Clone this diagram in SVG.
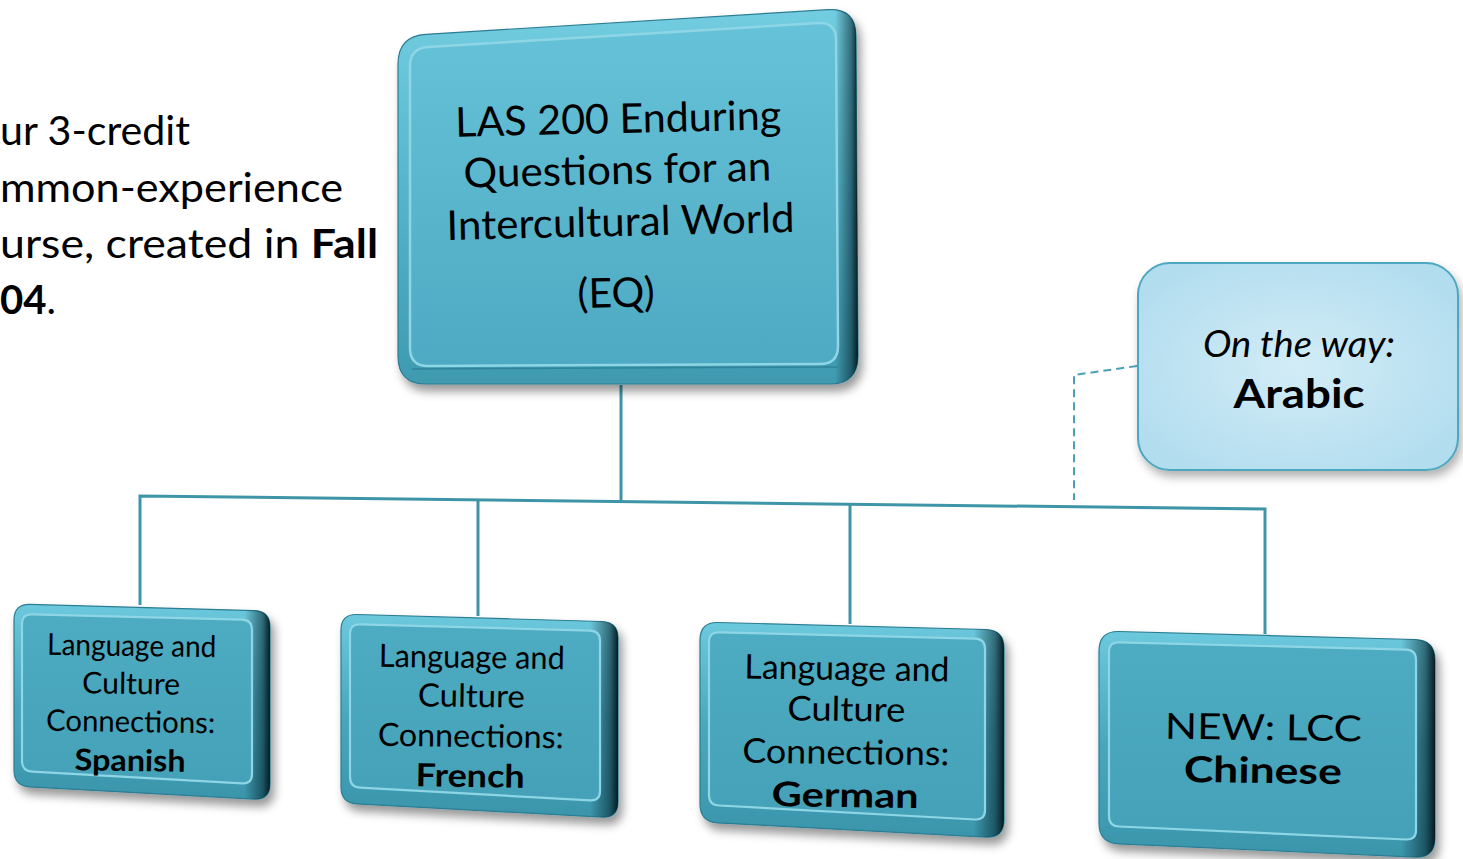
<svg xmlns="http://www.w3.org/2000/svg" width="1463" height="859" viewBox="0 0 1463 859">
<style>
text{font-family:Lato,"Open Sans","Liberation Sans",sans-serif;fill:#000;}
.lt{font-size:40px;}
.tb{font-size:41px;text-anchor:middle;}
.sb{text-anchor:middle;}
.b{font-weight:bold;}
.conn{fill:none;stroke:#3f95a8;stroke-width:3;}
.dash{fill:none;stroke:#4aa0b6;stroke-width:2;stroke-dasharray:8 5;}
.outer{fill:url(#gOuter);stroke:#2a7d92;stroke-width:1.2;}
.outerTop{fill:url(#gOuterTop);stroke:#2a7d92;stroke-width:1.2;}
.dark{fill:url(#gDark);}
.face{fill:url(#gFace);stroke:#8ed5e5;stroke-width:2.2;}
.faceTop{fill:url(#gFaceTop);stroke:#8ed5e5;stroke-width:2.5;}
</style>
<defs>
<filter id="sh" x="-10%" y="-10%" width="125%" height="130%">
<feDropShadow dx="4" dy="7" stdDeviation="5" flood-color="#000" flood-opacity="0.4"/>
</filter>
<filter id="sh2" x="-10%" y="-10%" width="125%" height="130%">
<feDropShadow dx="3" dy="6" stdDeviation="5" flood-color="#000" flood-opacity="0.3"/>
</filter>
<linearGradient id="gOuter" x1="0" y1="0" x2="0" y2="1">
<stop offset="0" stop-color="#6cc9dd"/>
<stop offset="0.5" stop-color="#4aa6bd"/>
<stop offset="1" stop-color="#3a95ab"/>
</linearGradient>
<linearGradient id="gOuterTop" x1="0" y1="0" x2="0" y2="1">
<stop offset="0" stop-color="#72cde0"/>
<stop offset="0.5" stop-color="#56b3ca"/>
<stop offset="1" stop-color="#3f9ab0"/>
</linearGradient>
<linearGradient id="gDark" x1="0" y1="0" x2="1" y2="0">
<stop offset="0" stop-color="#04222b" stop-opacity="0"/>
<stop offset="0.9" stop-color="#04222b" stop-opacity="0"/>
<stop offset="0.97" stop-color="#04222b" stop-opacity="0.55"/>
<stop offset="1" stop-color="#021419" stop-opacity="0.95"/>
</linearGradient>
<linearGradient id="gDarkTop" x1="0" y1="0" x2="1" y2="0">
<stop offset="0" stop-color="#04222b" stop-opacity="0"/>
<stop offset="0.95" stop-color="#04222b" stop-opacity="0"/>
<stop offset="0.985" stop-color="#04222b" stop-opacity="0.55"/>
<stop offset="1" stop-color="#021419" stop-opacity="0.95"/>
</linearGradient>
<linearGradient id="gFace" x1="0" y1="0" x2="0" y2="1">
<stop offset="0" stop-color="#4dabc2"/>
<stop offset="1" stop-color="#44a1b8"/>
</linearGradient>
<linearGradient id="gFaceTop" x1="0" y1="0" x2="0" y2="1">
<stop offset="0" stop-color="#66c2d8"/>
<stop offset="1" stop-color="#4eaac2"/>
</linearGradient>
<radialGradient id="gArabic" cx="0.5" cy="0.5" r="0.6">
<stop offset="0" stop-color="#d2ecf6"/>
<stop offset="1" stop-color="#b2ddef"/>
</radialGradient>
</defs>
<rect width="1463" height="859" fill="#fff"/>

<g id="intro-text">
<text class="lt" x="0" y="145" textLength="190" lengthAdjust="spacingAndGlyphs">ur 3-credit</text>
<text class="lt" x="0" y="202" textLength="343" lengthAdjust="spacingAndGlyphs">mmon-experience</text>
<text class="lt" x="0" y="258" textLength="378" lengthAdjust="spacingAndGlyphs">urse, created in <tspan class="b">Fall</tspan></text>
<text class="lt" x="0" y="314" textLength="56" lengthAdjust="spacingAndGlyphs"><tspan class="b">04</tspan>.</text>
</g>

<g id="connectors">
<path class="conn" d="M621,385 L621,501"/>
<path class="conn" d="M140,605 L140,496 L1265,509 L1265,634"/>
<path class="conn" d="M478,500 L478,616"/>
<path class="conn" d="M850,504 L850,624"/>
<path class="dash" d="M1137,366 L1074,375 L1074,500"/>
</g>

<g id="node-eq">
<path class="outerTop" filter="url(#sh)" d="M426,34.3 L828,9.7 Q856,8 856,36 L858,356 Q858,384 830,384 L426,384 Q398,384 398,356 L398,64 Q398,36 426,34.3 Z"/>
<path fill="url(#gDarkTop)" d="M426,34.3 L828,9.7 Q856,8 856,36 L858,356 Q858,384 830,384 L426,384 Q398,384 398,356 L398,64 Q398,36 426,34.3 Z"/>
<path class="faceTop" d="M428,46.9 L818,23.1 Q836,22 836,40 L838,346 Q838,364 820,364 L428,366 Q410,366 410,348 L410,66 Q410,48 428,46.9 Z"/>
<path fill="none" stroke="#2f8499" stroke-width="1.5" d="M412,369 L838,367"/>
<g transform="rotate(-1.3 620 200)">
<text class="tb" x="620" y="133" textLength="326" lengthAdjust="spacingAndGlyphs">LAS 200 Enduring</text>
<text class="tb" x="618" y="184" textLength="308" lengthAdjust="spacingAndGlyphs">Questions for an</text>
<text class="tb" x="620" y="236" textLength="348" lengthAdjust="spacingAndGlyphs">Intercultural World</text>
<text class="tb" x="614" y="307">(EQ)</text>
</g>
</g>

<g id="node-arabic">
<rect x="1138" y="263" width="320" height="207" rx="32" fill="url(#gArabic)" stroke="#4ea7be" stroke-width="2" filter="url(#sh2)"/>
<text class="sb" x="1299" y="357" font-size="37" font-style="italic" textLength="192" lengthAdjust="spacingAndGlyphs">On the way:</text>
<text class="sb b" x="1299" y="408" font-size="40" textLength="131" lengthAdjust="spacingAndGlyphs">Arabic</text>
</g>

<g id="node-spanish">
<path class="outer" filter="url(#sh)" d="M30,604.4 L254,610.6 Q270,611 270,627 L270,784 Q270,800 254,799.1 L30,786.9 Q14,786 14,770 L14,620 Q14,604 30,604.4 Z"/>
<path class="dark" d="M30,604.4 L254,610.6 Q270,611 270,627 L270,784 Q270,800 254,799.1 L30,786.9 Q14,786 14,770 L14,620 Q14,604 30,604.4 Z"/>
<path class="face" d="M32,614.3 L242,619.7 Q252,620 252,630 L252,774 Q252,784 242,783.4 L32,771.6 Q22,771 22,761 L22,624 Q22,614 32,614.3 Z"/>
<g transform="rotate(0.8 131 700)" font-size="30">
<text class="sb" x="131" y="656" textLength="169" lengthAdjust="spacingAndGlyphs">Language and</text>
<text class="sb" x="131" y="694" textLength="98" lengthAdjust="spacingAndGlyphs">Culture</text>
<text class="sb" x="131" y="732" textLength="169" lengthAdjust="spacingAndGlyphs">Connections:</text>
<text class="sb b" x="131" y="771" textLength="111" lengthAdjust="spacingAndGlyphs">Spanish</text>
</g>
</g>

<g id="node-french">
<path class="outer" filter="url(#sh)" d="M357,614.5 L602,621.5 Q618,622 618,638 L618,802 Q618,818 602,817.1 L357,803.9 Q341,803 341,787 L341,630 Q341,614 357,614.5 Z"/>
<path class="dark" d="M357,614.5 L602,621.5 Q618,622 618,638 L618,802 Q618,818 602,817.1 L357,803.9 Q341,803 341,787 L341,630 Q341,614 357,614.5 Z"/>
<path class="face" d="M360,624.3 L590,630.7 Q600,631 600,641 L600,791 Q600,801 590,800.4 L360,787.6 Q350,787 350,777 L350,634 Q350,624 360,624.3 Z"/>
<g transform="rotate(0.8 470 720)" font-size="32">
<text class="sb" x="471" y="668" textLength="186" lengthAdjust="spacingAndGlyphs">Language and</text>
<text class="sb" x="471" y="707" textLength="107" lengthAdjust="spacingAndGlyphs">Culture</text>
<text class="sb" x="471" y="747" textLength="186" lengthAdjust="spacingAndGlyphs">Connections:</text>
<text class="sb b" x="471" y="787" textLength="109" lengthAdjust="spacingAndGlyphs">French</text>
</g>
</g>

<g id="node-german">
<path class="outer" filter="url(#sh)" d="M718,622.5 L986,629.5 Q1004,630 1004,648 L1004,820 Q1004,838 986,837.1 L718,822.9 Q700,822 700,804 L700,640 Q700,622 718,622.5 Z"/>
<path class="dark" d="M718,622.5 L986,629.5 Q1004,630 1004,648 L1004,820 Q1004,838 986,837.1 L718,822.9 Q700,822 700,804 L700,640 Q700,622 718,622.5 Z"/>
<path class="face" d="M719,632.3 L975,638.7 Q985,639 985,649 L985,810 Q985,820 975,819.5 L719,805.5 Q709,805 709,795 L709,642 Q709,632 719,632.3 Z"/>
<g transform="rotate(0.8 846 740)" font-size="34">
<text class="sb" x="846" y="680" textLength="205" lengthAdjust="spacingAndGlyphs">Language and</text>
<text class="sb" x="846" y="721" textLength="118" lengthAdjust="spacingAndGlyphs">Culture</text>
<text class="sb" x="846" y="764" textLength="207" lengthAdjust="spacingAndGlyphs">Connections:</text>
<text class="sb b" x="846" y="807" textLength="147" lengthAdjust="spacingAndGlyphs">German</text>
</g>
</g>

<g id="node-chinese">
<path class="outer" filter="url(#sh)" d="M1119,631.5 L1415,639.5 Q1435,640 1435,660 L1435,838 Q1435,858 1415,857.1 L1119,843.9 Q1099,843 1099,823 L1099,651 Q1099,631 1119,631.5 Z"/>
<path class="dark" d="M1119,631.5 L1415,639.5 Q1435,640 1435,660 L1435,838 Q1435,858 1415,857.1 L1119,843.9 Q1099,843 1099,823 L1099,651 Q1099,631 1119,631.5 Z"/>
<path class="face" d="M1119,642.3 L1406,649.7 Q1416,650 1416,660 L1416,830 Q1416,840 1406,839.5 L1119,826.5 Q1109,826 1109,816 L1109,652 Q1109,642 1119,642.3 Z"/>
<g transform="rotate(0.8 1262 760)" font-size="36">
<text class="sb" x="1263" y="740" textLength="197" lengthAdjust="spacingAndGlyphs">NEW: LCC</text>
<text class="sb b" x="1263" y="783" textLength="158" lengthAdjust="spacingAndGlyphs">Chinese</text>
</g>
</g>
</svg>
